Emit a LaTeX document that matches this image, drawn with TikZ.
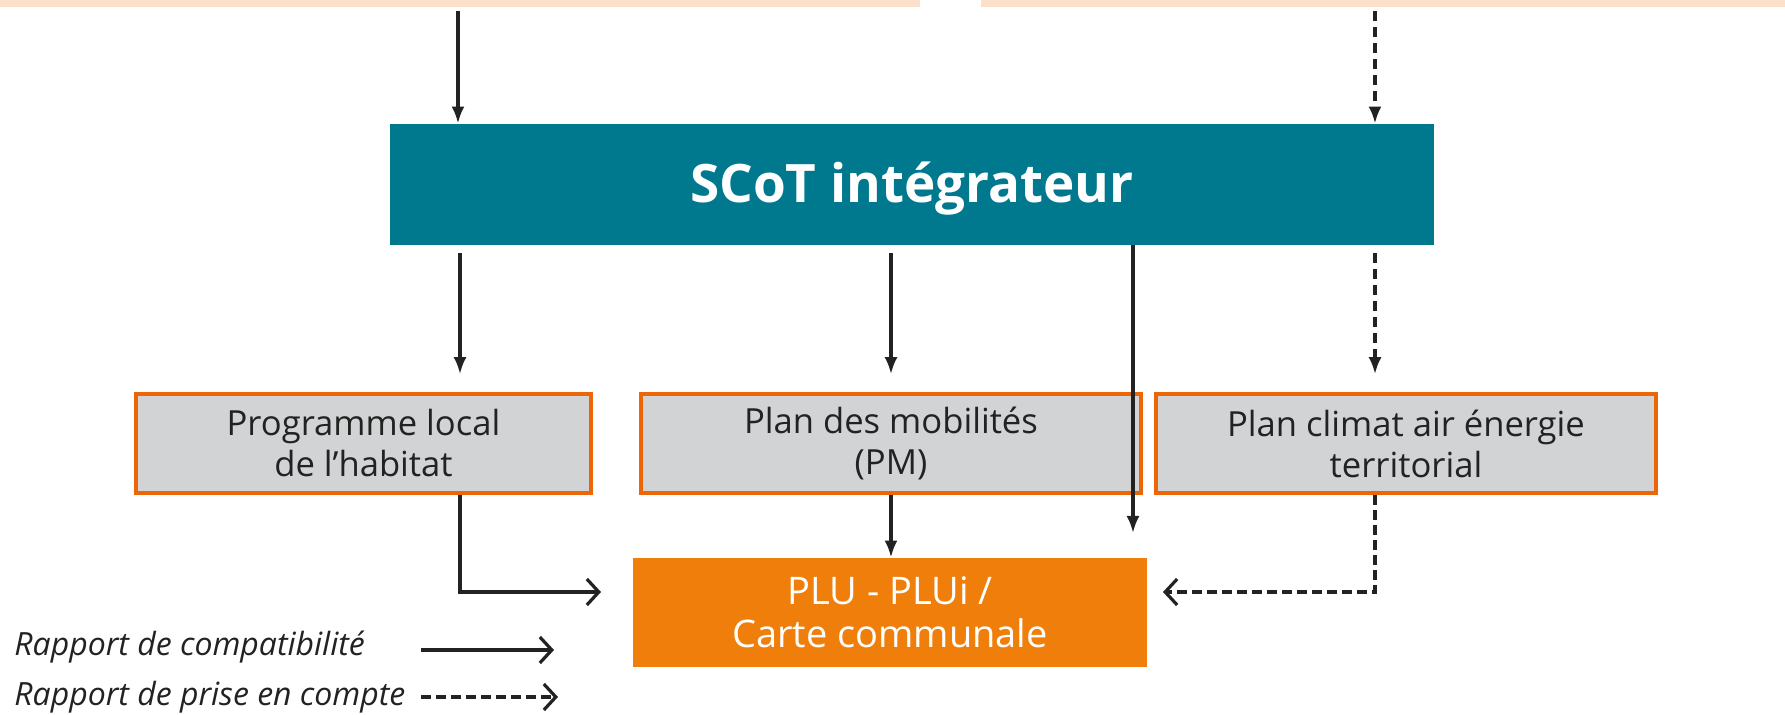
\documentclass[tikz,border=0pt]{standalone}
\usepackage{fontspec}
\setmainfont{Open Sans}
\usetikzlibrary{arrows.meta}
\definecolor{peach}{HTML}{FCE0CB}
\definecolor{teal}{HTML}{00798F}
\definecolor{boxgray}{HTML}{D1D3D4}
\definecolor{boxborder}{HTML}{EC6608}
\definecolor{plufill}{HTML}{EF7F0A}
\definecolor{ink}{HTML}{222222}
\tikzset{
  topbar/.style={fill=peach, draw=none, inner sep=0pt, minimum height=3.5pt},
  scotbox/.style={fill=teal, draw=none, inner sep=0pt, minimum width=522pt, minimum height=60.5pt,
     text=white, font=\fontsize{26.5}{31}\selectfont\bfseries},
  docbox/.style={fill=boxgray, draw=boxborder, line width=1.8pt, inner sep=0pt, minimum width=250pt,
     minimum height=49.5pt, align=center, text=ink, font=\fontsize{17.3}{20.5}\selectfont},
  plubox/.style={fill=plufill, draw=none, inner sep=0pt, minimum width=257pt, minimum height=54.5pt,
     align=center, text=white, font=\fontsize{19}{21.5}\selectfont},
  comp/.style={draw=ink, line width=1.6pt, -{Latex[length=8.5pt, width=6.5pt]}},
  prise/.style={comp, dash pattern=on 5pt off 3pt},
  compopen/.style={draw=ink, line width=1.6pt, -{Straight Barb[length=6pt, width=13pt, line width=1.6pt]}},
  priseopen/.style={compopen, dash pattern=on 5pt off 2.5pt},
  legend/.style={anchor=west, inner sep=0pt, text=ink, font=\fontsize{16}{19}\selectfont\itshape},
}
\begin{document}
\begin{tikzpicture}[x=0.5pt, y=-0.5pt]
\useasboundingbox (0,0) rectangle (1785,715);
% top bars
\node[topbar, minimum width=460pt] (top1) at (460,3.5) {};
\node[topbar, minimum width=402pt] (top2) at (1383,3.5) {};
% main boxes
\node[scotbox] (scot) at (912,184.5) {};
\node[text=white, font=\fontsize{26.5}{31}\selectfont\bfseries, inner sep=0pt] (scottxt) at (912,189) {SCoT intégrateur};
\node[docbox, minimum width=227.5pt] (plh) at (363.5,443.5) {Programme local\\de l’habitat};
\node[docbox] (pm) at (891,443.5) {Plan des mobilités\\(PM)};
\node[docbox] (pcaet) at (1406,443.5) {Plan climat air énergie\\territorial};
\node[plubox] (plu) at (890,612.5) {PLU - PLUi /\\Carte communale};
% column coordinates
\coordinate (cA) at (458,0);
\coordinate (cB) at (1375,0);
\coordinate (cC) at (460,0);
\coordinate (cD) at (891,0);
\coordinate (cE) at (1133,0);
\coordinate (eEnd) at (1133,533);
\coordinate (gEnd) at (601,592);
\coordinate (iEnd) at (1163,592);
% top to SCoT
\draw[comp, shorten <=2pt] (top1.south -| cA) -- (scot.north -| cA);
\draw[prise, shorten <=2pt] (top2.south -| cB) -- (scot.north -| cB);
% SCoT to row 2
\draw[comp, shorten <=4pt, shorten >=9pt] (scot.south -| cC) -- (plh.north -| cC);
\draw[comp, shorten <=4pt, shorten >=9pt] (scot.south -| cD) -- (pm.north -| cD);
\draw[prise, shorten <=4pt, shorten >=9pt] (scot.south -| cB) -- (pcaet.north -| cB);
\draw[comp] (scot.south -| cE) -- (eEnd);
% row 2 to PLU
\draw[compopen] (plh.south -| cC) |- (gEnd);
\draw[comp] (pm.south -| cD) -- (plu.north -| cD);
\draw[priseopen] (pcaet.south -| cB) |- (iEnd);
% legend
\node[legend] (l1) at (14,647) {Rapport de compatibilité};
\node[legend] (l2) at (14,697) {Rapport de prise en compte};
\coordinate (l1s) at (421,650);
\coordinate (l1e) at (554,650);
\coordinate (l2s) at (421,697);
\coordinate (l2e) at (558,697);
\draw[compopen] (l1s) -- (l1e);
\draw[priseopen] (l2s) -- (l2e);
\end{tikzpicture}
\end{document}
